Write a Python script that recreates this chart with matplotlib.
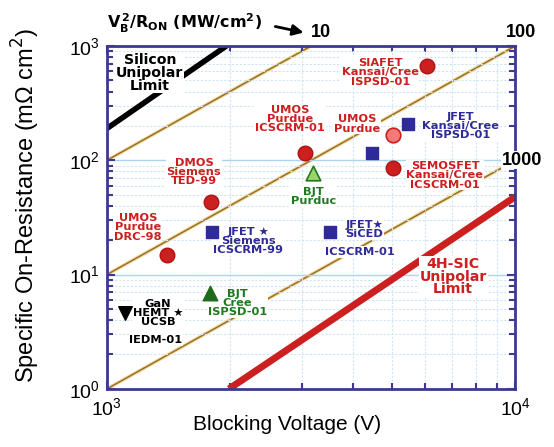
import numpy as np
import matplotlib.pyplot as plt
from matplotlib.ticker import LogLocator, NullFormatter

plt.rcParams["font.family"] = ["Liberation Sans", "DejaVu Sans"]
plt.rcParams["mathtext.fontset"] = "dejavusans"

FRAME = "#3d3a8c"
FOM_COLOR = "#9a7028"
RED = "#cc1f1f"
BLUE = "#2e2a9a"
GREEN = "#1f7a1f"

# ── Figure of merit lines  VB^2/Ron (MW/cm^2) ──────────────
fom_values = [10, 100, 1000]
v_line = np.array([1e3, 1e4])

# ── Material limits (V, mOhm cm^2) ─────────────────────────
si_v = [1000, 1960]
si_r = [190, 1000]
sic_v = [1990, 10000]
sic_r = [1.0, 48]

# ── Devices ────────────────────────────────────────────────
red_dev_v = [6080, 3050, 1800, 1400, 5020]
red_dev_r = [670, 116, 43, 14.9, 86]
pink_dev_v = [5020]
pink_dev_r = [167]
jfet_v = [5470, 4470, 1810, 3520]
jfet_r = [208, 116, 23.6, 23.6]
bjt_purdue_v = [3200]
bjt_purdue_r = [77]
bjt_cree_v = [1790]
bjt_cree_r = [6.9]
gan_v = [1107]
gan_r = [4.6]

fig = plt.figure(figsize=(5.54, 4.47), dpi=100)
ax = fig.add_axes([0.193, 0.130, 0.737, 0.767])
ax.set_xscale("log"); ax.set_yscale("log")
ax.set_xlim(1e3, 1e4); ax.set_ylim(1, 1e3)

# grid
ax.grid(which="major", color="#a9d6ec", lw=1.0, ls="-", zorder=0)
ax.grid(which="minor", color="#cfe6f2", lw=0.8, ls=(0, (2, 1.5)), zorder=0)

for fom in fom_values:
    r = v_line**2 / (fom * 1e3)
    ax.plot(v_line, r, color="#f3dca0", lw=2.6, zorder=1, solid_capstyle="butt")
    ax.plot(v_line, r, color=FOM_COLOR, lw=1.1, zorder=1.1)

ax.plot(si_v, si_r, color="black", lw=4, zorder=2, solid_capstyle="round")
ax.plot(sic_v, sic_r, color=RED, lw=5, zorder=2, solid_capstyle="butt")

box = dict(facecolor="white", edgecolor="none", pad=0.5)
lab = dict(family="DejaVu Sans", fontsize=8.2, fontweight="bold", ha="center",
           va="center", linespacing=0.92, zorder=3, bbox=box)
big = dict(lab, fontsize=10.2, linespacing=0.88)

ax.text(1274, 582, "Silicon\nUnipolar\nLimit", color="black", **big)
ax.text(7050, 9.6, "4H-SIC\nUnipolar\nLimit", color=RED, **big)

ax.text(4670, 590, "SIAFET\nKansai/Cree\nISPSD-01", color=RED, **lab)
ax.text(2810, 230, "UMOS\nPurdue\nICSCRM-01", color=RED, **lab)
ax.text(4100, 208, "UMOS\nPurdue", color=RED, **lab)
ax.text(7330, 200, "JFET\nKansai/Cree\nISPSD-01", color=BLUE, **lab)
ax.text(6730, 74, "SEMOSFET\nKansai/Cree\nICSCRM-01", color=RED, **lab)
ax.text(3200, 48, "BJT\nPurduc", color=GREEN, **lab)
ax.text(1633, 79, "DMOS\nSiemens\nTED-99", color=RED, **lab)
ax.text(1190, 26, "UMOS\nPurdue\nDRC-98", color=RED, **lab)
ax.text(2218, 19.7, "JFET \u2605\nSiemens\nICSCRM-99", color=BLUE, **lab)
ax.text(4266, 24.9, "JFET\u2605\nSiCED", color=BLUE, **lab)
ax.text(4170, 15.8, "ICSCRM-01", color=BLUE, **lab)
ax.text(2085, 5.65, "BJT\nCree\nISPSD-01", color=GREEN, **lab)
ax.text(1334, 4.62, "GaN\nHEMT \u2605\nUCSB", color="black", **lab)
ax.text(1319, 2.68, "IEDM-01", color="black", **lab)

ax.scatter(red_dev_v, red_dev_r, s=110, color=RED, edgecolor="#b01010", zorder=4)
ax.scatter(pink_dev_v, pink_dev_r, s=110, color="#f47a78", edgecolor=RED, lw=1.2, zorder=4)
ax.scatter(jfet_v, jfet_r, s=85, marker="s", color=BLUE, zorder=4)
ax.scatter(bjt_purdue_v, bjt_purdue_r, s=110, marker="^", color="#9ad56a",
           edgecolor=GREEN, lw=1.2, zorder=4)
ax.scatter(bjt_cree_v, bjt_cree_r, s=110, marker="^", color="#1e6b1e", zorder=4)
ax.scatter(gan_v, gan_r, s=95, marker="v", color="black", zorder=4)

# axes frame and ticks
for sp in ax.spines.values():
    sp.set_color(FRAME); sp.set_linewidth(2)
ax.xaxis.set_major_locator(LogLocator(base=10, numticks=5))
ax.xaxis.set_minor_locator(LogLocator(base=10, subs=np.arange(2, 10), numticks=10))
ax.yaxis.set_minor_locator(LogLocator(base=10, subs=np.arange(2, 10), numticks=10))
ax.xaxis.set_minor_formatter(NullFormatter())
ax.yaxis.set_minor_formatter(NullFormatter())
ax.tick_params(which="both", direction="in", top=True, right=True, color=FRAME,
               width=1.5, labelsize=14)
ax.tick_params(axis="x", which="major", pad=6)
ax.tick_params(axis="y", which="major", pad=5)
ax.tick_params(which="major", length=6)
ax.tick_params(which="minor", length=4)

ax.set_xlabel("Blocking Voltage (V)", fontsize=15)
ax.xaxis.set_label_coords(0.44, -0.075)
ax.set_ylabel("Specific On-Resistance (m\u03a9 cm$^2$)", fontsize=17)
ax.yaxis.set_label_coords(-0.16, 0.535)

# VB^2/Ron scale labels
fig.text(0.193, 0.948, r"$\mathbf{V_B^{\,2}/R_{ON}}$ (MW/cm$\mathbf{^2}$)",
         family="DejaVu Sans", fontsize=11.5, fontweight="bold", ha="left", va="center")
ax.annotate("", xy=(0.553, 0.926), xycoords="figure fraction",
            xytext=(0.492, 0.942), textcoords="figure fraction",
            arrowprops=dict(arrowstyle="-|>", color="black", lw=2.0, mutation_scale=16))
fig.text(0.58, 0.928, "10", fontsize=13, fontweight="bold", ha="center", va="center")
fig.text(0.941, 0.928, "100", fontsize=13, fontweight="bold", ha="center", va="center")
fig.text(0.942, 0.642, "1000", fontsize=13, fontweight="bold", ha="center", va="center",
         bbox=dict(facecolor="white", edgecolor="none", pad=0.5))

fig.savefig("out.png", dpi=100, facecolor="white")
